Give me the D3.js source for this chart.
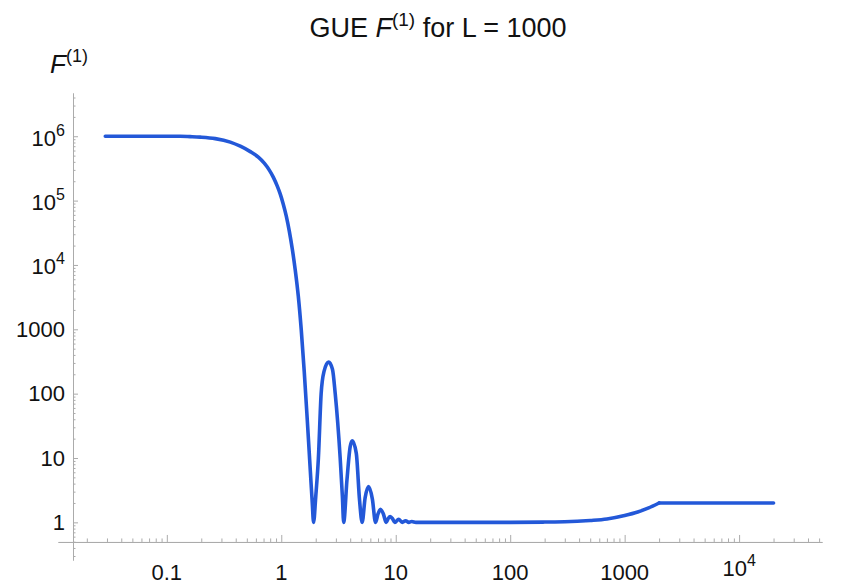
<!DOCTYPE html>
<html>
<head>
<meta charset="utf-8">
<script src="https://d3js.org/d3.v7.min.js"></script>
<style>
    body { margin: 0; background: #fff; }
    svg { display: block; font-family: "Liberation Sans", Arial, sans-serif; }
</style>
</head>
<body>
<svg width="842" height="587"></svg>
<script>
// values (log-log)
var curveT = [0.029, 0.05, 0.1, 0.131, 0.16, 0.196, 0.265, 0.3585, 0.4384, 0.536, 0.63, 0.71, 0.786,
    0.851, 0.923, 0.98, 1.041, 1.106, 1.175, 1.248, 1.325, 1.408, 1.495, 1.588, 1.687, 1.792, 1.865, 1.915,
    2.0, 2.11, 2.23, 2.36, 2.59, 2.8, 2.96, 3.27, 3.42, 3.508,
    3.75, 4.0, 4.17, 4.52, 4.83, 5.087,
    5.4, 5.8, 6.25, 6.66,
    7.0, 7.35, 7.8, 8.24,
    8.6, 8.95, 9.4, 9.81,
    10.6, 11.4, 12.2, 13.0, 13.8, 15, 30, 100,
    200, 300, 500, 700, 1000, 1300, 1600, 2000];
var curveF = [1e6, 1e6, 1e6, 1e6, 9.86e5, 9.68e5, 9.18e5, 8.1e5, 7.0e5, 5.77e5, 4.73e5, 3.82e5, 2.98e5,
    2.32e5, 1.68e5, 1.26e5, 8.8e4, 5.75e4, 3.36e4, 1.77e4, 8.3e3, 3.29e3, 975, 217, 39, 6.5, 2.0, 1,
    2.5, 10, 100, 220, 310, 240, 100, 10, 2.5, 1,
    4.6, 15, 18.5, 11.9, 2.2, 1,
    2.4, 3.6, 2.3, 1,
    1.35, 1.6, 1.35, 1,
    1.15, 1.23, 1.13, 1,
    1.12, 1, 1.06, 1, 1.03, 1, 1, 1,
    1.01, 1.02, 1.07, 1.13, 1.28, 1.45, 1.66, 2];
// plateau after t = 2L
var plateauT = [2000, 20000];
var plateauF = [2, 2];

var xTicks = [0.1, 1, 10, 100, 1000, 10000];
var xLabels = [['0.1'], ['1'], ['10'], ['100'], ['1000'], ['10', '4']];
var yTicks = [1, 10, 100, 1000, 1e4, 1e5, 1e6];
var yLabels = [['1'], ['10'], ['100'], ['1000'], ['10', '4'], ['10', '5'], ['10', '6']];

var svg = d3.select('svg');
var g = svg.append('g');
var axisColor = '#ababab';
var lineColor = '#2358d8';

var xScale = d3.scaleLog()
    .domain([0.0112, 53000])
    .range([58, 822]);

var yScale = d3.scaleLog()
    .domain([0.26, 4.7e6])
    .range([560, 93]);

var axisY0 = yScale(1) + 19.6;   // where the horizontal axis sits
var axisX0 = 73;

function minorTicks(lo, hi, domain) {
    var out = [];
    for (var p = lo; p <= hi; p++) {
        for (var k = 2; k <= 9; k++) {
            var v = k * Math.pow(10, p);
            if (v > domain[0] && v < domain[1]) out.push(v);
        }
    }
    return out;
}

// x axis
g.append('g')
    .attr('class', 'axis')
    .attr('transform', 'translate(0,' + axisY0 + ')')
    .call(d3.axisBottom(xScale).tickValues(xTicks).tickSize(-7).tickSizeOuter(0).tickFormat(''));
g.append('g')
    .attr('class', 'axis')
    .attr('transform', 'translate(0,' + axisY0 + ')')
    .call(d3.axisBottom(xScale).tickValues(minorTicks(-2, 4, xScale.domain())).tickSize(-3.5).tickSizeOuter(0).tickFormat(''));

// y axis
g.append('g')
    .attr('class', 'axis')
    .attr('transform', 'translate(' + axisX0 + ',0)')
    .call(d3.axisLeft(yScale).tickValues(yTicks).tickSize(-5).tickSizeOuter(0).tickFormat(''));
g.append('g')
    .attr('class', 'axis')
    .attr('transform', 'translate(' + axisX0 + ',0)')
    .call(d3.axisLeft(yScale).tickValues(minorTicks(-1, 6, yScale.domain())).tickSize(-2.5).tickSizeOuter(0).tickFormat(''));

svg.selectAll('.axis .domain').attr('stroke', axisColor);
svg.selectAll('.axis line').attr('stroke', axisColor);

// tick labels with superscripts
function addLabel(sel, parts) {
    sel.append('tspan').text(parts[0]);
    if (parts.length > 1) {
        sel.append('tspan')
            .attr('dy', -10)
            .attr('font-size', 16)
            .text(parts[1]);
    }
}

xTicks.forEach(function (v, i) {
    var t = g.append('text')
        .attr('x', xScale(v))
        .attr('y', axisY0 + 38 - (xLabels[i].length > 1 ? 4 : 0))
        .attr('text-anchor', 'middle')
        .attr('font-size', 22)
        .attr('fill', '#111');
    addLabel(t, xLabels[i]);
});

yTicks.forEach(function (v, i) {
    var t = g.append('text')
        .attr('x', 65)
        .attr('y', yScale(v) + 7.5 + (yLabels[i].length > 1 ? 2 : 0))
        .attr('text-anchor', 'end')
        .attr('font-size', 22)
        .attr('fill', '#111');
    addLabel(t, yLabels[i]);
});

// the curve
var line = d3.line()
    .x(function (d) { return xScale(d[0]); })
    .y(function (d) { return yScale(d[1]); })
    .curve(d3.curveMonotoneX);

g.append('path')
    .datum(d3.zip(curveT, curveF))
    .attr('d', line)
    .attr('fill', 'none')
    .attr('stroke', lineColor)
    .attr('stroke-width', 3.6)
    .attr('stroke-linejoin', 'round')
    .attr('stroke-linecap', 'round');

g.append('path')
    .datum(d3.zip(plateauT, plateauF))
    .attr('d', line.curve(d3.curveLinear))
    .attr('fill', 'none')
    .attr('stroke', lineColor)
    .attr('stroke-width', 3.6)
    .attr('stroke-linecap', 'round');

// title
var title = svg.append('text')
    .attr('x', 438)
    .attr('y', 37)
    .attr('text-anchor', 'middle')
    .attr('font-size', 27)
    .attr('fill', '#111');
title.append('tspan').text('GUE ');
title.append('tspan').attr('font-style', 'italic').text('F');
title.append('tspan').attr('dy', -11).attr('font-size', 19).text('(1)');
title.append('tspan').attr('dy', 11).text(' for L = 1000');

// y axis label
var ylab = svg.append('text')
    .attr('x', 50)
    .attr('y', 73)
    .attr('font-size', 26)
    .attr('fill', '#111');
ylab.append('tspan').attr('font-style', 'italic').text('F');
ylab.append('tspan').attr('dy', -11).attr('font-size', 18).text('(1)');
</script>
</body>
</html>
